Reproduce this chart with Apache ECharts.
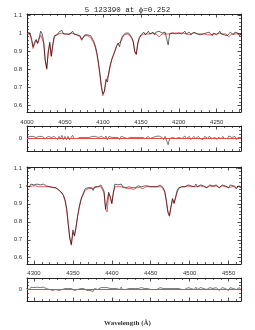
<!DOCTYPE html>
<html><head><meta charset="utf-8">
<script src="https://cdn.jsdelivr.net/npm/echarts@6/dist/echarts.min.js"></script>
<style>html,body{margin:0;padding:0;background:#fff}#c{width:255px;height:330px}</style>
</head><body><div id="c"></div>
<script>
const titleText = '5 123390 at \u03d5=0.252';
const xLabelText = 'Wavelength (\u00c5)';

const wl1 = [
4000,4002,4004,4006,4008,4010,4012,4014,4016,4018,
4020,4022,4024,4026,4028,4030,4032,4034,4036,4038,
4040,4042,4044,4046,4048,4050,4052,4054,4056,4058,
4060,4062,4064,4066,4068,4070,4072,4074,4076,4078,
4080,4082,4084,4086,4088,4090,4092,4094,4096,4098,
4100,4102,4104,4106,4108,4110,4112,4114,4116,4118,
4120,4122,4124,4126,4128,4130,4132,4134,4136,4138,
4140,4142,4144,4146,4148,4150,4152,4154,4156,4158,
4160,4162,4164,4166,4168,4170,4172,4174,4176,4178,
4180,4182,4184,4186,4188,4190,4192,4194,4196,4198,
4200,4202,4204,4206,4208,4210,4212,4214,4216,4218,
4220,4222,4224,4226,4228,4230,4232,4234,4236,4238,
4240,4242,4244,4246,4248,4250,4252,4254,4256,4258,
4260,4262,4264,4266,4268,4270,4272,4274,4276,4278,
4280,4282];
const obs1 = [
1.005,0.995,1.0,0.97,0.925,0.95,0.965,0.945,0.975,1.01,
0.995,0.95,0.85,0.805,0.9,0.95,0.875,0.94,0.985,0.995,
0.99,1.005,1.0,1.015,0.995,1.005,0.995,1.005,0.99,1.0,
1.01,0.995,1.0,0.99,0.995,0.985,0.965,0.975,0.99,0.995,
0.99,0.985,0.985,0.975,0.955,0.93,0.895,0.84,0.78,0.71,
0.665,0.68,0.745,0.73,0.79,0.83,0.86,0.88,0.905,0.93,
0.945,0.925,0.965,0.985,0.995,1.0,0.995,1.0,0.99,0.975,
0.955,0.9,0.885,0.945,0.975,0.99,1.0,1.005,0.99,1.0,
1.01,0.995,1.0,1.005,0.99,1.005,1.0,1.01,1.015,1.0,
0.995,1.005,0.995,0.935,0.995,1.0,1.0,1.01,0.995,1.005,
1.0,1.01,0.995,1.005,1.01,0.995,1.0,1.005,0.99,1.0,
1.005,1.0,0.995,1.005,0.99,1.0,0.995,1.005,1.0,0.99,
1.005,0.995,0.985,1.0,1.005,0.99,1.0,1.01,0.995,1.005,
0.99,1.0,0.985,0.995,1.005,1.0,0.99,1.005,0.995,1.0,
0.985,0.995];
const mod1 = [
1.0,0.995,0.99,0.96,0.915,0.94,0.96,0.94,0.965,0.99,
0.985,0.945,0.85,0.8,0.89,0.94,0.87,0.93,0.975,0.99,
0.995,0.995,1.0,1.0,1.0,0.995,1.0,0.995,0.995,1.0,
0.995,0.995,1.0,0.99,0.99,0.98,0.96,0.97,0.985,0.99,
0.985,0.98,0.975,0.965,0.945,0.92,0.885,0.835,0.77,0.7,
0.655,0.68,0.73,0.735,0.78,0.825,0.855,0.88,0.9,0.925,
0.94,0.93,0.955,0.975,0.99,0.995,0.995,0.995,0.985,0.97,
0.95,0.895,0.88,0.94,0.97,0.985,0.995,0.995,0.99,0.995,
1.0,0.995,0.995,1.0,0.99,0.995,0.995,0.98,0.99,0.995,
1.0,0.995,0.99,0.995,0.995,1.0,0.995,1.0,0.995,1.0,
0.995,1.0,0.995,1.0,0.995,0.995,1.0,0.99,0.995,1.0,
0.995,1.0,0.995,0.995,0.99,0.995,1.0,0.995,0.995,0.99,
0.995,0.99,0.985,0.995,1.0,0.995,0.995,1.0,0.995,0.995,
0.99,0.995,0.985,0.98,0.99,0.995,0.99,0.995,1.0,0.995,
0.985,0.99];
const res1 = [
0.005,0,0.01,0.01,0.01,0.01,0.005,0.005,0.01,0.015,
0.01,0.005,0,0.005,0.01,0.01,0.005,0.01,0.01,0.005,
-0.005,0.01,0,0.015,-0.005,0.01,-0.005,0.01,-0.005,0,
0.015,0,0,0,0.005,0.005,0.005,0.005,0.005,0.005,
0.005,0.005,0.01,0.01,0.01,0.01,0.01,0.005,0.01,0.01,
0.01,0,0.012,-0.005,0.01,0.005,0.005,0,0.005,0.005,
0.005,-0.005,0.01,0.01,0.005,0.005,0,0.005,0.005,0.005,
0.005,0.005,0.005,0.005,0.005,0.005,0.005,0.01,0,0.005,
0.01,0,0.005,0.005,0,0.01,0.005,0.012,0.01,0.005,
-0.005,0.01,0.005,-0.03,0,0,0.005,0.01,0,0.005,
0.005,0.01,0,0.005,0.012,0,0,0.01,-0.005,0,
0.01,0,0,0.01,0,0.005,-0.005,0.01,0.005,0,
0.01,0.005,0,0.005,0.005,-0.005,0.005,0.01,0,0.01,
0,0.005,0,0.012,0.01,0.005,0,0.01,-0.005,0.005,
0,0.005];

const wl3 = [
4290,4292,4294,4296,4298,4300,4302,4304,4306,4308,
4310,4312,4314,4316,4318,4320,4322,4324,4326,4328,
4330,4332,4334,4336,4338,4340,4342,4344,4346,4348,
4350,4352,4354,4356,4358,4360,4362,4364,4366,4368,
4370,4372,4374,4376,4378,4380,4382,4384,4386,4388,
4390,4392,4394,4396,4398,4400,4402,4404,4406,4408,
4410,4412,4414,4416,4418,4420,4422,4424,4426,4428,
4430,4432,4434,4436,4438,4440,4442,4444,4446,4448,
4450,4452,4454,4456,4458,4460,4462,4464,4466,4468,
4470,4472,4474,4476,4478,4480,4482,4484,4486,4488,
4490,4492,4494,4496,4498,4500,4502,4504,4506,4508,
4510,4512,4514,4516,4518,4520,4522,4524,4526,4528,
4530,4532,4534,4536,4538,4540,4542,4544,4546,4548,
4550,4552,4554,4556,4558,4560,4562,4564,4566];
const obs3 = [
1.0,1.005,0.995,1.01,1.0,1.005,0.995,1.01,1.0,1.005,
0.995,1.01,1.0,1.0,1.005,0.995,1.0,0.99,0.995,0.99,
0.985,0.975,0.97,0.96,0.945,0.92,0.875,0.79,0.71,0.675,
0.755,0.72,0.77,0.83,0.88,0.92,0.945,0.965,0.985,0.975,
0.99,0.98,0.99,0.975,0.995,0.985,0.995,1.0,1.005,0.99,
0.97,0.87,0.865,0.965,0.94,0.9,0.965,1.01,1.0,1.005,
0.995,1.01,0.995,1.0,0.99,0.985,0.995,0.985,0.99,0.98,
0.99,0.995,1.0,0.99,0.995,0.985,1.0,0.995,1.0,1.005,
0.995,1.0,0.995,1.005,0.995,1.0,1.005,1.0,0.99,0.97,
0.92,0.86,0.835,0.885,0.93,0.905,0.895,0.975,0.99,1.0,
0.995,1.005,0.995,1.0,1.005,0.995,1.0,1.005,0.995,1.01,
0.995,1.0,1.005,0.995,1.0,1.005,0.99,1.0,1.005,0.995,
1.0,0.995,1.005,1.0,0.99,1.0,1.005,0.995,1.0,1.01,
0.99,1.005,0.995,1.0,1.005,0.985,1.0,1.005,0.99];
const mod3 = [
1.0,1.0,0.995,1.0,1.0,0.995,1.0,1.0,0.995,1.0,
0.995,1.0,0.995,1.0,0.995,0.995,0.995,0.99,0.99,0.99,
0.985,0.98,0.97,0.96,0.945,0.915,0.865,0.785,0.705,0.67,
0.74,0.725,0.77,0.83,0.875,0.915,0.94,0.96,0.975,0.98,
0.985,0.985,0.985,0.985,0.99,0.99,0.995,0.995,0.995,0.985,
0.96,0.87,0.855,0.955,0.935,0.905,0.96,0.995,0.995,0.995,
0.995,0.995,0.995,0.99,0.99,0.985,0.99,0.985,0.985,0.98,
0.985,0.99,0.995,0.99,0.985,0.985,0.995,0.995,0.995,0.995,
0.995,0.995,0.995,0.995,0.995,0.995,0.995,0.995,0.985,0.965,
0.915,0.85,0.83,0.88,0.925,0.9,0.89,0.965,0.985,0.995,
0.995,1.0,0.995,0.995,1.0,0.995,0.995,1.0,0.995,1.0,
0.995,0.995,1.0,0.995,0.995,1.0,0.99,0.995,1.0,0.995,
0.995,0.995,1.0,0.995,0.99,0.995,1.0,0.995,0.995,1.0,
0.99,1.0,0.995,0.995,1.0,0.985,0.995,1.0,0.99];
const res3 = [
0.005,0.01,0,0.012,0.005,0.01,0,0.012,0.005,0.01,
0,0.012,0.005,0.005,0.01,0,0.005,-0.005,0,0,
0,-0.005,0,0,0,0.005,0.01,0.005,0.005,0.005,
0.012,-0.005,0,0,0.005,0.005,0.005,0.005,0.01,-0.005,
0.005,-0.005,0.005,-0.01,0.005,-0.005,0,0.005,0.01,0.005,
0.01,0,0.01,0.01,0.005,-0.005,0.005,0.012,0.005,0.01,
0,0.012,0,0.01,0,0,0.005,0,0.005,0,
0.005,0.005,0.005,0,0.01,0,0.005,0,0.005,0.01,
0,0.005,0,0.01,0,0.005,0.01,0.005,0.005,0.005,
0.005,0.01,0.005,0.005,0.005,0.005,0.005,0.01,0.005,0.005,
0,0.01,0,0.005,0.01,0,0.005,0.01,0,0.012,
0,0.005,0.01,0,0.005,0.01,0,0.005,0.01,0,
0.005,0,0.01,0.005,-0.005,0.005,0.01,0,0.005,0.012,
-0.005,0.01,0,0.005,0.01,0,0.005,0.01,-0.005];

const xRange1 = [4000, 4282];
const xRange3 = [4291, 4566];
const fluxRange = [0.565, 1.105];
const resRange = [-0.06, 0.06];
const resTickStep = 0.06;
const resModelLevel = 0;

function pairs(x, y){ return x.map((v,i)=>[v, y[i]]); }

const AX = '#222';
const LBL = {color:'#333', fontSize:6, fontFamily:'Liberation Sans, Arial, sans-serif'};
const grids = [
  {left:27, top:14, width:214, height:98},
  {left:27, top:126, width:214, height:25},
  {left:27, top:167, width:214, height:97},
  {left:27, top:278, width:214, height:23}
];
function xAx(g, range, pos, showLabel, margin){
  return {type:'value', gridIndex:g, position:pos, min:range[0], max:range[1], splitNumber:5,
    axisLine:{show:true, onZero:false, lineStyle:{color:AX, width:1}},
    axisTick:{show:true, inside:true, length:3.5, lineStyle:{color:AX, width:0.8}},
    minorTick:{show:true, splitNumber:5, length:2, lineStyle:{color:AX, width:0.7}},
    splitLine:{show:false},
    axisLabel:{show:showLabel, margin:margin||6, ...LBL, showMinLabel:true, showMaxLabel:true,
      formatter:v=> (Math.abs(v/50-Math.round(v/50))<1e-6 ? String(Math.round(v)) : '')}
  };
}
function yAx(g, range, pos, showLabel, isRes){
  const o = {type:'value', gridIndex:g, position:pos, min:range[0], max:range[1],
    axisLine:{show:true, onZero:false, lineStyle:{color:AX, width:1}},
    axisTick:{show:true, inside:true, length:3.5, lineStyle:{color:AX, width:0.8}},
    minorTick:{show:true, splitNumber:isRes?3:5, length:2, lineStyle:{color:AX, width:0.7}},
    splitLine:{show:false},
    axisLabel:{show:showLabel, margin:5, ...LBL,
      formatter: isRes ? (v=> Math.abs(v)<1e-9 ? '0' : '') :
        (v=> Math.abs(v*10-Math.round(v*10))<1e-6 ? String(Math.round(v*10)/10) : '')}
  };
  if (isRes) o.interval = resTickStep; else o.splitNumber = 5;
  return o;
}
const xAxis = [
  xAx(0, xRange1, 'bottom', true, 7), xAx(0, xRange1, 'top', false),
  xAx(1, xRange1, 'bottom', false), xAx(1, xRange1, 'top', false),
  xAx(2, xRange3, 'bottom', true, 6), xAx(2, xRange3, 'top', false),
  xAx(3, xRange3, 'bottom', false), xAx(3, xRange3, 'top', false)
];
const yAxis = [
  yAx(0, fluxRange, 'left', true, false), yAx(0, fluxRange, 'right', false, false),
  yAx(1, resRange, 'left', true, true), yAx(1, resRange, 'right', false, true),
  yAx(2, fluxRange, 'left', true, false), yAx(2, fluxRange, 'right', false, false),
  yAx(3, resRange, 'left', true, true), yAx(3, resRange, 'right', false, true)
];
function line(xi, yi, data, color, w, z){
  return {type:'line', xAxisIndex:xi, yAxisIndex:yi, data:data, showSymbol:false, symbol:'none',
    lineStyle:{color:color, width:w}, itemStyle:{color:color}, z:z, animation:false, silent:true};
}
const RED = '#e5484b';
function zeroLine(xi, yi, range){
  return line(xi, yi, [[range[0], resModelLevel], [range[1], resModelLevel]], RED, 1.1, 8);
}
const chart = echarts.init(document.getElementById('c'), null, {renderer:'canvas'});
chart.setOption({
  backgroundColor:'#fff',
  animation:false,
  title:[
    {text:titleText, left:'center', top:1, textStyle:{fontSize:7.5, fontWeight:'normal', color:'#222', fontFamily:'Liberation Mono, monospace'}},
    {text:xLabelText, left:'center', top:315, textStyle:{fontSize:7, fontWeight:'bold', color:'#333', fontFamily:'Liberation Serif, serif'}}
  ],
  grid:grids,
  xAxis:xAxis,
  yAxis:yAxis,
  series:[
    line(0, 0, pairs(wl1, mod1), RED, 0.9, 2),
    line(0, 0, pairs(wl1, obs1), '#000', 0.6, 3),
    line(2, 2, pairs(wl1, res1), '#222', 0.6, 3),
    line(4, 4, pairs(wl3, mod3), RED, 0.9, 2),
    line(4, 4, pairs(wl3, obs3), '#000', 0.6, 3),
    line(6, 6, pairs(wl3, res3), '#222', 0.6, 3),
    zeroLine(2, 2, xRange1),
    zeroLine(6, 6, xRange3)
  ]
});
</script>
</body></html>
